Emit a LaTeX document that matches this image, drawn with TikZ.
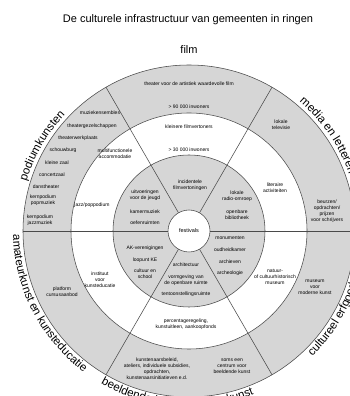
\documentclass[tikz,border=0pt]{standalone}
\usepackage{fontspec}
\setmainfont{Liberation Sans}
\usetikzlibrary{decorations.text}
\definecolor{ringgray}{HTML}{D6D6D6}
\definecolor{linegray}{HTML}{4A4A4A}
\newcommand\curvefont{\fontsize{11.5}{13.5}\selectfont}
\tikzset{
  ringline/.style={draw=linegray, line width=0.55pt},
  sm/.style={font=\fontsize{5}{6}\selectfont, align=center, inner sep=0pt},
  curved/.style={decorate, decoration={text along path, text align=left, text={|\curvefont|#1}}}
}
\begin{document}
\begin{tikzpicture}[x=1pt,y=1pt]
\useasboundingbox (0,0) rectangle (350,396);
\clip (0,0) rectangle (350,396);
\coordinate (C) at (189,165);
% rings
\fill[ringgray] (C) circle[radius=166];
\fill[white] (C) circle[radius=118];
\fill[ringgray] (C) circle[radius=76];
\fill[white] (C) circle[radius=21];
\foreach \r in {166,118,76,21} \draw[ringline] (C) circle[radius=\r];
\foreach \a in {0,60,...,300} \draw[ringline] ([shift={(\a:21)}]C) -- ([shift={(\a:166)}]C);
% title and sector names
\node[font=\fontsize{11}{13}\selectfont, inner sep=0pt] (title) at (188,376) {De culturele infrastructuur van gemeenten in ringen};
\node[font=\fontsize{11}{13}\selectfont, inner sep=0pt] (film) at (189,346) {film};
\path[curved=podiumkunsten] ([shift={(163:170)}]C) arc[start angle=163, end angle=110, radius=170];
\path[curved={media en letteren}] ([shift={(49.5:170)}]C) arc[start angle=49.5, end angle=-15, radius=170];
\path[curved={amateurkunst en kunsteducatie}] ([shift={(181.2:176)}]C) arc[start angle=181.2, end angle=239, radius=176];
\path[curved={beeldende kunst en bouwkunst}] ([shift={(240:176)}]C) arc[start angle=240, end angle=305, radius=176];
\path[curved={cultureel erfgoed}] ([shift={(-45.5:176)}]C) arc[start angle=-45.5, end angle=15, radius=176];
% top sector
\node[sm] (a1) at (189,312) {theater voor de artistiek waardevolle film};
\node[sm] (a2) at (189,289) {> 90 000 inwoners};
\node[sm] (a3) at (189,269) {kleinere filmvertoners};
\node[sm] (a4) at (189,246) {> 30 000 inwoners};
\node[sm] (a5) at (190,211) {incidentele\\filmvertoningen};
% upper-left sector
\node[sm] (b1) at (100,283) {muziekensembles};
\node[sm] (b2) at (92,270) {theatergezelschappen};
\node[sm] (b3) at (78,258) {theaterwerkplaats};
\node[sm] (b4) at (63,246) {schouwburg};
\node[sm] (b5) at (57,233) {kleine zaal};
\node[sm] (b6) at (52,221) {concertzaal};
\node[sm] (b7) at (46,209) {danstheater};
\node[sm] (b8) at (43,196) {kernpodium\\popmuziek};
\node[sm] (b9) at (40,176) {kernpodium\\jazzmuziek};
\node[sm] (b10) at (115,242) {multifunctionele\\accommodatie};
\node[sm] (b11) at (92,191) {jazz/poppodium};
\node[sm] (b12) at (145,201) {uitvoeringen\\voor de jeugd};
\node[sm] (b13) at (145,184) {kamermuziek};
\node[sm] (b14) at (145,173) {oefenruimten};
% upper-right sector
\node[sm] (c1) at (281,271) {lokale\\televisie};
\node[sm] (c2) at (327,185) {beurzen/\\opdrachten/\\prijzen\\voor schrijvers};
\node[sm] (c3) at (275,208) {literaire\\activiteiten};
\node[sm] (c4) at (237,200) {lokale\\radio-omroep};
\node[sm] (c5) at (237,181) {openbare\\bibliotheek};
% centre
\node[font=\fontsize{5.5}{6.5}\selectfont, inner sep=0pt] (f) at (C) {festivals};
% lower-right sector
\node[sm] (d1) at (230,158) {monumenten};
\node[sm] (d2) at (230,146) {oudheidkamer};
\node[sm] (d3) at (230,134) {archieven};
\node[sm] (d4) at (230,123) {archeologie};
\node[sm] (d5) at (275,119) {natuur-\\of cultuurhistorisch\\museum};
\node[sm] (d6) at (315,109) {museum\\voor\\moderne kunst};
% lower-left sector
\node[sm] (e1) at (145,148) {AK-verenigingen};
\node[sm] (e2) at (145,136) {loopunt KE};
\node[sm] (e3) at (145,122) {cultuur en\\school};
\node[sm] (e4) at (100,116) {instituut\\voor\\kunsteducatie};
\node[sm] (e5) at (62,104) {platform\\cursusaanbod};
% lower sector
\node[sm] (g1) at (186,131) {architectuur};
\node[sm] (g2) at (186,116) {vormgeving van\\de openbare ruimte};
\node[sm] (g3) at (186,102) {tentoonstellingsruimte};
\node[sm] (g4) at (186,72) {percentageregeling,\\kunstuitleen, aankoopfonds};
\node[sm] (g5) at (157,27) {kunstenaarsbeleid,\\ateliers, individuele subsidies,\\opdrachten,\\kunstenaarsinitiatieven e.d.};
\node[sm] (g6) at (232,30) {soms een\\centrum voor\\beeldende kunst};
\end{tikzpicture}
\end{document}
